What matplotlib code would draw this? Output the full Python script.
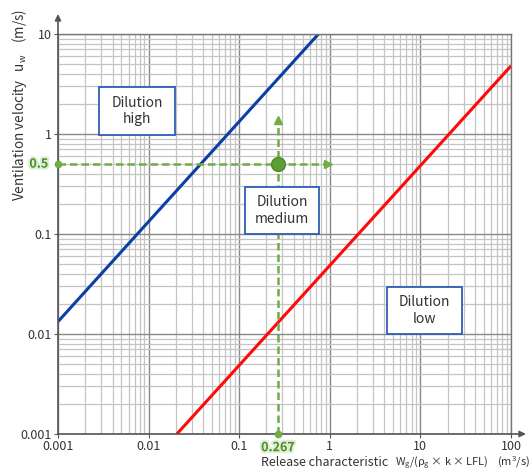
import matplotlib
matplotlib.use("Agg")
import matplotlib.pyplot as plt
import matplotlib.patheffects as pe
from matplotlib.patches import Rectangle
from matplotlib.ticker import LogLocator, NullFormatter, FixedLocator, FixedFormatter

plt.rcParams['font.family'] = ['Noto Sans CJK KR', 'DejaVu Sans']
plt.rcParams['mathtext.fontset'] = 'custom'
plt.rcParams['mathtext.rm'] = 'Noto Sans CJK KR'
plt.rcParams['mathtext.it'] = 'Noto Sans CJK KR'

# data
x_ticks = [0.001, 0.01, 0.1, 1, 10, 100]
x_labels = ['0.001', '0.01', '0.1', '1', '10', '100']
y_ticks = [0.001, 0.01, 0.1, 1, 10]
y_labels = ['0.001', '0.01', '0.1', '1', '10']

blue_x = [0.001, 0.75]      # high/medium boundary
blue_y = [0.0133, 10]
red_x = [0.0205, 100]       # medium/low boundary
red_y = [0.001, 4.8]

point_x = 0.267
point_y = 0.5
h_end = 0.95     # horizontal guide arrow end (x)
v_end = 1.38     # vertical guide arrow end (y)

regions = ['Dilution\nhigh', 'Dilution\nmedium', 'Dilution\nlow']

fig = plt.figure(figsize=(5.32, 4.74), dpi=100)
ax = fig.add_axes([58/532, 40/474, 453/532, 400/474])
ax.set_xscale('log')
ax.set_yscale('log')
ax.set_xlim(0.001, 100)
ax.set_ylim(0.001, 10)

# grid
ax.xaxis.set_minor_locator(LogLocator(base=10, subs=range(2, 10)))
ax.yaxis.set_minor_locator(LogLocator(base=10, subs=range(2, 10)))
ax.xaxis.set_minor_formatter(NullFormatter())
ax.yaxis.set_minor_formatter(NullFormatter())
ax.grid(which='minor', color='#c4c4c4', lw=0.9)
ax.grid(which='major', color='#888888', lw=1.0)
ax.set_axisbelow(True)

ax.xaxis.set_major_locator(FixedLocator(x_ticks))
ax.xaxis.set_major_formatter(FixedFormatter(x_labels))
ax.yaxis.set_major_locator(FixedLocator(y_ticks))
ax.yaxis.set_major_formatter(FixedFormatter(y_labels))
ax.tick_params(which='minor', length=0)
ax.tick_params(which='major', length=3, width=0.8, color='#555555',
               labelsize=9, labelcolor='#333333', pad=1.5)

for s in ['top', 'right']:
    ax.spines[s].set_color('#777777')
    ax.spines[s].set_linewidth(1.0)
for s in ['left', 'bottom']:
    ax.spines[s].set_color('#555555')
    ax.spines[s].set_linewidth(1.2)

# axis arrows
ax.annotate('', xy=(0, 1.05), xytext=(0, 1.0), xycoords='axes fraction',
            arrowprops=dict(arrowstyle='-|>', color='#555555', lw=1.2,
                            mutation_scale=9, shrinkA=0, shrinkB=0))
ax.annotate('', xy=(1.033, 0), xytext=(1.0, 0), xycoords='axes fraction',
            arrowprops=dict(arrowstyle='-|>', color='#555555', lw=1.2,
                            mutation_scale=9, shrinkA=0, shrinkB=0))

# boundary lines
ax.plot(blue_x, blue_y, color='#0c3fa6', lw=2.2, solid_capstyle='butt')
ax.plot(red_x, red_y, color='#ff0a0a', lw=2.2, solid_capstyle='butt')

# guide lines
green = '#70ad47'
ax.plot([0.001, h_end], [point_y, point_y], color=green, lw=1.8,
        ls=(0, (3, 1.6)), clip_on=False)
ax.plot([point_x, point_x], [0.001, v_end], color=green, lw=1.8,
        ls=(0, (3, 1.6)), clip_on=False)
ax.plot([h_end], [point_y], marker='>', color=green, ms=6, clip_on=False)
ax.plot([point_x], [v_end], marker='^', color=green, ms=6, clip_on=False)
ax.plot([0.001, point_x], [point_y, 0.001], 'o', color=green, ms=4.5,
        clip_on=False, zorder=5)
ax.plot([point_x], [point_y], 'o', color='#5e9e35', mec='#4f8a2a', ms=10,
        zorder=6)

glow = [pe.withStroke(linewidth=3, foreground='#dcefd0')]
ax.text(-0.022, point_y, '0.5', transform=ax.get_yaxis_transform(),
        ha='right', va='center', fontsize=9, fontweight='bold',
        color='#4f8a2a', path_effects=glow)
ax.text(point_x, -0.018, '0.267', transform=ax.get_xaxis_transform(),
        ha='center', va='top', fontsize=9, fontweight='bold',
        color='#4f8a2a', path_effects=glow)

# region boxes (axes fraction)
boxes = [(0.0905, 0.7475, 0.1675, 0.12),
         (0.4128, 0.50, 0.1634, 0.1175),
         (0.7263, 0.25, 0.1655, 0.1175)]
for (bx, by, bw, bh), lab in zip(boxes, regions):
    ax.add_patch(Rectangle((bx, by), bw, bh, transform=ax.transAxes,
                           facecolor='white', edgecolor='#2f5cb8', lw=1.3,
                           zorder=4))
    ax.text(bx + bw/2, by + bh/2, lab, transform=ax.transAxes, ha='center',
            va='center', fontsize=10, color='#333333', linespacing=1.25,
            zorder=5)

fig.text(20/532, 1 - 9/474, 'Ventilation velocity   u$_w$    (m/s)',
         rotation=90, ha='center', va='top', fontsize=9.7, color='#333333')

# x label in three pieces, laid out right to left
base = 1 - 466/474
parts = [('(m$^3$/s)', 8), ('W$_g$/(ρ$_g$ × k × LFL)', 7.8),
         ('Release characteristic', 9)]
gaps = [0, 9, 6]
renderer = fig.canvas.get_renderer()
right = 530
for (txt, fs), gap in zip(parts, gaps):
    right -= gap
    t = fig.text(right/532, base, txt, ha='right', va='baseline',
                 fontsize=fs, color='#333333')
    right = t.get_window_extent(renderer).x0

fig.savefig('out.png', dpi=100)
